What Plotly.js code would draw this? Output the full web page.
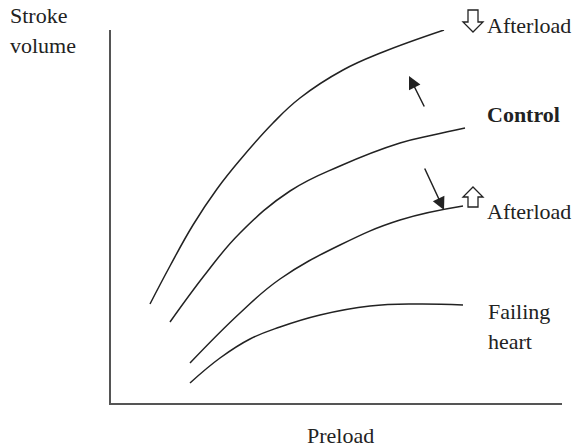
<!DOCTYPE html>
<html>
<head>
<meta charset="utf-8">
<script src="https://cdn.plot.ly/plotly-3.0.1.min.js"></script>
<style>html,body{margin:0;padding:0;background:#fff;}#chart{width:578px;height:447px;}</style>
</head>
<body>
<div id="chart"></div>
<script>
// Preload (x) and stroke volume (y) in arbitrary units
const decreasedAfterloadX = [39, 59, 82, 106, 129, 162, 189, 232, 272, 333];
const decreasedAfterloadY = [99, 137, 178, 214, 243, 280, 305, 333, 351, 373];
const controlX = [59, 96, 129, 179, 229, 289, 322, 354];
const controlY = [81, 131, 170, 212, 237, 260, 268, 275];
const increasedAfterloadX = [79, 129, 169, 229, 289, 352];
const increasedAfterloadY = [40, 90, 124, 158, 183, 197];
const failingX = [79, 109, 139, 169, 209, 259, 306, 352];
const failingY = [20, 45, 64, 76, 88, 97, 99, 98];

const FONT = 'Liberation Serif, Times New Roman, serif';
const INK = '#222';
const W = 578, H = 447, ML = 111, MR = 16, MT = 30, MB = 44;
const PW = W - ML - MR, PH = H - MT - MB;
const px = v => (v - ML) / PW;
const py = v => (H - MB - v) / PH;

const lineStyle = {color: INK, width: 1.5, shape: 'spline', smoothing: 1.2};
const traces = [
  {x: decreasedAfterloadX, y: decreasedAfterloadY, mode: 'lines', line: lineStyle, hoverinfo: 'skip'},
  {x: controlX, y: controlY, mode: 'lines', line: lineStyle, hoverinfo: 'skip'},
  {x: increasedAfterloadX, y: increasedAfterloadY, mode: 'lines', line: lineStyle, hoverinfo: 'skip'},
  {x: failingX, y: failingY, mode: 'lines', line: lineStyle, hoverinfo: 'skip'}
];

function label(text, left, centerY, opts) {
  return Object.assign({
    text: text, xref: 'paper', yref: 'paper', x: px(left), y: py(centerY),
    xanchor: 'left', yanchor: 'middle', showarrow: false,
    font: {family: FONT, size: 22, color: INK}
  }, opts || {});
}

const annotations = [
  label('Stroke', 8, 16),
  label('volume', 8, 45),
  label('Afterload', 485, 26),
  label('<b>Control</b>', 485, 114),
  label('Afterload', 485, 211),
  label('Failing', 486, 311),
  label('heart', 486, 341),
  label('Preload', 340, 435, {xanchor: 'center'}),
  {x: 298, y: 327, ax: 314, ay: 295, xref: 'x', yref: 'y', axref: 'x', ayref: 'y',
   showarrow: true, arrowhead: 2, arrowsize: 1.7, arrowwidth: 1.5, arrowcolor: INK, text: ''},
  {x: 333, y: 193, ax: 313, ay: 236, xref: 'x', yref: 'y', axref: 'x', ayref: 'y',
   showarrow: true, arrowhead: 2, arrowsize: 1.7, arrowwidth: 1.5, arrowcolor: INK, text: ''}
];

// Hollow block arrow symbols (decoration), built in paper space from pixel geometry
function blockArrow(cx, top, bottom, down) {
  const sw = 5, hw = 10, headLen = 10;
  let pts;
  if (down) {
    const base = bottom - headLen;
    pts = [[cx - sw, top], [cx + sw, top], [cx + sw, base], [cx + hw, base], [cx, bottom],
           [cx - hw, base], [cx - sw, base]];
  } else {
    const base = top + headLen;
    pts = [[cx - sw, bottom], [cx + sw, bottom], [cx + sw, base], [cx + hw, base], [cx, top],
           [cx - hw, base], [cx - sw, base]];
  }
  const d = pts.map((p, i) => (i ? 'L' : 'M') + px(p[0]).toFixed(5) + ',' + py(p[1]).toFixed(5)).join(' ') + ' Z';
  return {type: 'path', xref: 'paper', yref: 'paper', path: d,
          line: {color: INK, width: 1.3}, fillcolor: 'rgba(0,0,0,0)'};
}

const axisCommon = {showline: true, linecolor: '#555', linewidth: 2, showgrid: false,
  zeroline: false, ticks: '', showticklabels: false, fixedrange: true};

const layout = {
  width: W, height: H,
  margin: {l: ML, r: MR, t: MT, b: MB, pad: 0},
  paper_bgcolor: '#fff', plot_bgcolor: '#fff',
  showlegend: false,
  xaxis: Object.assign({range: [0, PW]}, axisCommon),
  yaxis: Object.assign({range: [0, PH]}, axisCommon),
  annotations: annotations,
  shapes: [blockArrow(473, 10, 32, true), blockArrow(473, 187, 207, false)]
};

Plotly.newPlot('chart', traces, layout, {staticPlot: true, displayModeBar: false});
</script>
</body>
</html>
